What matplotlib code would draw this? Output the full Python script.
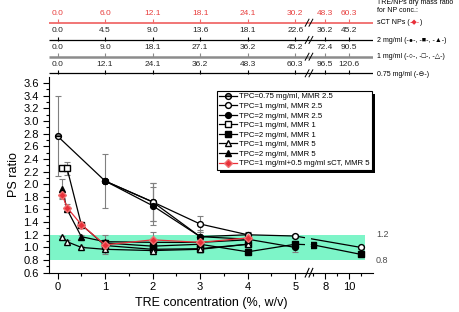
import numpy as np
import matplotlib
matplotlib.use("Agg")
import matplotlib.pyplot as plt
from matplotlib.patches import Rectangle
from matplotlib.transforms import IdentityTransform

plt.rcParams['font.family'] = ['Liberation Sans', 'DejaVu Sans']

# --- data (TRE concentration %, w/v) ---
x_075_25 = [0, 1, 2, 3, 4]
y_075_25 = [2.76, 2.05, 1.72, 1.17, 1.20]
e_075_25 = [0.63, 0.42, 0.30, 0.08, 0.05]

x_1_25 = [1, 2, 3, 4, 5, 11]
y_1_25 = [2.05, 1.72, 1.37, 1.20, 1.18, 1.00]
e_1_25 = [0.0, 0.30, 0.12, 0.05, 0.03, 0.02]

x_2_25 = [1, 2, 3, 4, 5]
y_2_25 = [2.05, 1.66, 1.17, 1.13, 1.00]
e_2_25 = [0.0, 0.30, 0.10, 0.05, 0.07]

x_1_1 = [0.1, 0.2, 0.5, 1, 2, 3, 4]
y_1_1 = [2.25, 2.25, 1.36, 1.03, 0.97, 0.98, 1.05]
e_1_1 = [0.03, 0.10, 0.03, 0.05, 0.05, 0.05, 0.05]

x_2_1 = [1, 2, 3, 4, 5, 7, 11]
y_2_1 = [1.07, 1.02, 1.05, 0.93, 1.05, 1.04, 0.89]
e_2_1 = [0.05, 0.05, 0.05, 0.03, 0.05, 0.02, 0.02]

x_1_5 = [0.1, 0.2, 0.5, 1, 2, 3, 4]
y_1_5 = [1.16, 1.09, 1.00, 0.97, 0.95, 0.97, 1.05]
e_1_5 = [0.02, 0.02, 0.02, 0.07, 0.03, 0.04, 0.03]

x_2_5 = [0.1, 0.2, 0.5, 1, 2, 3, 4]
y_2_5 = [1.92, 1.60, 1.17, 1.09, 1.08, 1.08, 1.12]
e_2_5 = [0.16, 0.03, 0.03, 0.10, 0.05, 0.05, 0.05]

x_sct = [0.1, 0.2, 0.5, 1, 2, 3, 4]
y_sct = [1.83, 1.63, 1.36, 1.04, 1.12, 1.08, 1.15]
e_sct = [0.05, 0.05, 0.03, 0.05, 0.12, 0.08, 0.05]

labels = ["TPC=0.75 mg/ml, MMR 2.5", "TPC=1 mg/ml, MMR 2.5", "TPC=2 mg/ml, MMR 2.5",
          "TPC=1 mg/ml, MMR 1", "TPC=2 mg/ml, MMR 1", "TPC=1 mg/ml, MMR 5",
          "TPC=2 mg/ml, MMR 5", "TPC=1 mg/ml+0.5 mg/ml sCT, MMR 5"]

tick_vals = [0, 1, 2, 3, 4, 5, 8, 10]
tick_text = ["0", "1", "2", "3", "4", "5", "8", "10"]
ratio_sct = ["0.0", "6.0", "12.1", "18.1", "24.1", "30.2", "48.3", "60.3"]
ratio_2 = ["0.0", "4.5", "9.0", "13.6", "18.1", "22.6", "36.2", "45.2"]
ratio_1 = ["0.0", "9.0", "18.1", "27.1", "36.2", "45.2", "72.4", "90.5"]
ratio_075 = ["0.0", "12.1", "24.1", "36.2", "48.3", "60.3", "96.5", "120.6"]


def pos(v):
    # broken x axis: linear up to 5, compressed after the break
    v = np.asarray(v, float)
    return np.where(v <= 6, v, 5.38 + (v - 7) * 0.25)


XL = (-0.18, 6.63)
BRK = (5.2, 5.34)

fig = plt.figure(figsize=(4.59, 3.12), dpi=100)
ax = fig.add_axes([49 / 459, 1 - 272.7 / 312, (372.7 - 49) / 459, (272.7 - 76.7) / 312])
ax.set_xlim(*XL)
ax.set_ylim(0.6, 3.7)

ax.fill_between([XL[0], 6.47], 0.8, 1.2, color='#7df5c8', lw=0, zorder=0)

styles = [
    (x_075_25, y_075_25, e_075_25, dict(color='k', marker='o', mfc='0.55', mfcalt='white', fillstyle='top', mec='k')),
    (x_1_25, y_1_25, e_1_25, dict(color='k', marker='o', mfc='white', mec='k')),
    (x_2_25, y_2_25, e_2_25, dict(color='k', marker='o', mfc='k', mec='k')),
    (x_1_1, y_1_1, e_1_1, dict(color='k', marker='s', mfc='white', mec='k')),
    (x_2_1, y_2_1, e_2_1, dict(color='k', marker='s', mfc='k', mec='k')),
    (x_1_5, y_1_5, e_1_5, dict(color='k', marker='^', mfc='white', mec='k')),
    (x_2_5, y_2_5, e_2_5, dict(color='k', marker='^', mfc='k', mec='k')),
    (x_sct, y_sct, e_sct, dict(color='#e8303a', marker='D', mfc='#e8303a', mec='#f07070', ms=3.6)),
]

handles = []
for i, (xs, ys, es, st) in enumerate(styles):
    p = pos(xs)
    ax.errorbar(p, ys, yerr=es, fmt='none', ecolor='0.5', elinewidth=0.8,
                capsize=2, capthick=0.8, zorder=2 + i * 0.1)
    kw = dict(ms=4.2, lw=0.9, zorder=3 + i * 0.1)
    kw.update(st)
    for lo, hi in [(XL[0] - 1, BRK[0]), (BRK[1], XL[1] + 1)]:
        ln, = ax.plot(p, ys, label=labels[i], **kw)
        ln.set_clip_path(Rectangle((lo, 0), hi - lo, 10, transform=ax.transData))
    handles.append(ln)

ax.spines['top'].set_visible(False)
ax.spines['right'].set_visible(False)
ax.set_xticks(pos(tick_vals))
ax.set_xticklabels(tick_text)
ax.set_xticks(pos([0.5, 1.5, 2.5, 3.5, 4.5, 7, 9, 11]), minor=True)
ax.set_yticks(np.arange(0.6, 3.61, 0.2))
ax.set_yticklabels([f"{v:.1f}" for v in np.arange(0.6, 3.61, 0.2)])
ax.set_yticks(np.arange(0.7, 3.7, 0.2), minor=True)
ax.tick_params(which='major', direction='out', length=4, width=0.8, labelsize=8)
ax.tick_params(axis='x', which='major', pad=2.5)
ax.tick_params(which='minor', direction='out', length=2, width=0.8)
ax.set_xlabel("TRE concentration (%, w/v)", fontsize=9, labelpad=4)
ax.set_ylabel("PS ratio", fontsize=9, labelpad=2)

# break marks on x axis
for b in [5.25, 5.33]:
    ax.plot([b - 0.04, b + 0.04], [-0.022, 0.022], color='k', lw=0.8,
            transform=ax.get_xaxis_transform(), clip_on=False)

# band limits on the right
tr = ax.get_yaxis_transform()
ax.text(1.01, 1.2, "1.2", transform=tr, fontsize=6.5, color='0.3', va='center')
ax.text(1.01, 0.8, "0.8", transform=tr, fontsize=6.5, color='0.3', va='center')

leg = ax.legend(handles=handles, loc='upper right', bbox_to_anchor=(372 / 459, 1 - 90.7 / 312),
                bbox_transform=fig.transFigure, borderaxespad=0, fontsize=5.6, handlelength=2.3,
                labelspacing=0.27, borderpad=0.3, handletextpad=0.3, fancybox=False,
                edgecolor='k', framealpha=1)
leg.get_frame().set_linewidth(0.8)

# --- stacked top axes with TRE/NPs ratios ---
axt = fig.add_axes([49 / 459, 1 - 80 / 312, (372.7 - 49) / 459, 80 / 312])
axt.set_xlim(*XL)
axt.set_ylim(80, 0)
axt.axis('off')
rows = [(22.7, ratio_sct, '#f06a6a', '#e8403f', 1.3),
        (40.0, ratio_2, 'k', '0.15', 0.9),
        (56.7, ratio_1, '0.55', '0.15', 1.8),
        (73.3, ratio_075, 'k', '0.15', 0.9)]
tp = pos(tick_vals)
for yl, labs, lc, tc, lw in rows:
    axt.plot(XL, [yl, yl], color=lc, lw=lw, solid_capstyle='butt')
    axt.plot(tp, [yl - 1.5] * len(tp), ls='none', marker='|', ms=3, color=lc, mew=0.8)
    for xp, s in zip(tp, labs):
        axt.text(xp, yl - 9, s, ha='center', va='center', fontsize=6, color=tc)
    for b in [5.25, 5.33]:
        axt.plot([b - 0.04, b + 0.04], [yl + 3.5, yl - 3.5], color='k', lw=0.7)

fs = 5
x0 = 377 / 459
fig.text(x0, 1 - 2 / 312, "TRE/NPs dry mass ratio", fontsize=fs, va='center')
fig.text(x0, 1 - 10 / 312, "for NP conc.:", fontsize=fs, va='center')
t1 = fig.text(x0, 1 - 23 / 312, "sCT NPs (", fontsize=fs, va='center')
fig.canvas.draw()
r = fig.canvas.get_renderer()
x1 = fig.transFigure.inverted().transform((t1.get_window_extent(r).x1, 0))[0]
t2 = fig.text(x1, 1 - 23 / 312, "-\u25c6-", fontsize=fs, va='center', color='#e8303a')
x2 = fig.transFigure.inverted().transform((t2.get_window_extent(r).x1, 0))[0]
fig.text(x2, 1 - 23 / 312, ")", fontsize=fs, va='center')
fig.text(x0, 1 - 41 / 312, "2 mg/ml (-\u25cf-, -\u25a0-, -\u25b2-)", fontsize=fs, va='center')
fig.text(x0, 1 - 57 / 312, "1 mg/ml (-\u25cb-, -\u25a1-, -\u25b3-)", fontsize=fs, va='center')
fig.text(x0, 1 - 74 / 312, "0.75 mg/ml (-\u2296-)", fontsize=fs, va='center')

# solid black drop shadow behind legend, offset ~3 px
bb = leg.get_window_extent(r)
shadow = Rectangle((bb.x0 + 3, bb.y0 - 3), bb.width, bb.height, transform=IdentityTransform(),
                   facecolor='k', edgecolor='none', zorder=leg.get_zorder() - 0.5, clip_on=False)
ax.add_patch(shadow)

fig.savefig("out.png", dpi=100)
